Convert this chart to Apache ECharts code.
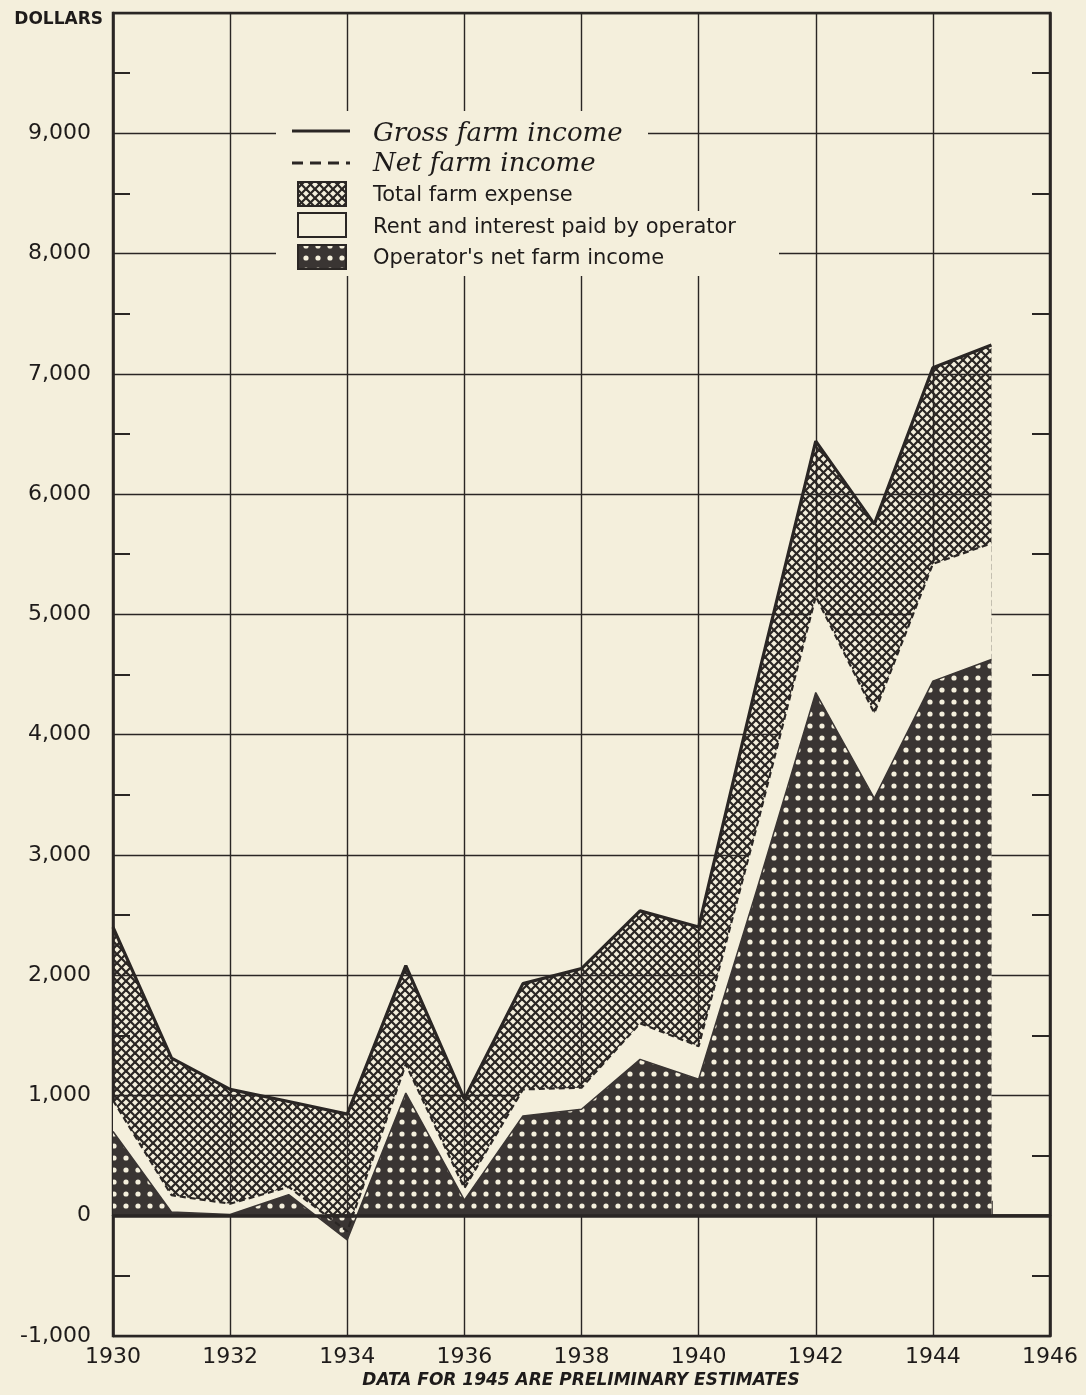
<!DOCTYPE html>
<html>
<head>
<meta charset="utf-8">
<script src="https://cdn.jsdelivr.net/npm/echarts@6/dist/echarts.min.js"></script>
<style>
html,body{margin:0;padding:0;background:#f4efdc;}
#chart{width:1086px;height:1395px;}
</style>
</head>
<body>
<div id="chart"></div>
<script>
// ---- data ----
const years = [1930,1931,1932,1933,1934,1935,1936,1937,1938,1939,1940,1941,1942,1943,1944,1945];
const grossFarmIncome = [2400,1310,1050,950,845,2080,970,1930,2055,2535,2400,4450,6440,5750,7050,7240];
const netFarmIncome = [960,170,100,240,-130,1260,230,1050,1065,1600,1410,3250,5150,4180,5420,5590];
const operatorNetIncome = [700,30,10,175,-200,1020,130,830,885,1300,1135,2720,4350,3470,4445,4625];
const xTickLabels = [1930,1932,1934,1936,1938,1940,1942,1944,1946];
const yTickLabels = [-1000,0,1000,2000,3000,4000,5000,6000,7000,8000,9000];
const legendNames = ['Gross farm income','Net farm income','Total farm expense','Rent and interest paid by operator',"Operator's net farm income"];

// ---- styles ----
const BG = '#f4efdc';
const INK = '#2a2624';
const DARK = '#3a3533';

function crossPattern(opaque){
  const s = 9, c = document.createElement('canvas');
  c.width = s; c.height = s;
  const g = c.getContext('2d');
  if (opaque) { g.fillStyle = BG; g.fillRect(0,0,s,s); }
  g.strokeStyle = INK; g.lineWidth = 2.2; g.lineCap = 'square';
  const seg = (a,b,cx,d)=>{g.beginPath();g.moveTo(a,b);g.lineTo(cx,d);g.stroke();};
  seg(-1,-1,s+1,s+1); seg(s+1,-1,-1,s+1);
  seg(s-3,-3,s+3,3); seg(-3,s-3,3,s+3);
  seg(-3,3,3,-3); seg(s-3,s+3,s+3,s-3);
  return {image:c, repeat:'repeat'};
}
function dotPattern(){
  const s = 12, c = document.createElement('canvas');
  c.width = s; c.height = s;
  const g = c.getContext('2d');
  g.fillStyle = DARK; g.fillRect(0,0,s,s);
  g.fillStyle = BG; g.beginPath(); g.arc(6,6,2.6,0,Math.PI*2); g.fill();
  return {image:c, repeat:'repeat'};
}
const crossSeries = crossPattern(false);
const crossLegend = crossPattern(true);
const dotsSeries = dotPattern();
const dotsLegend = dotPattern();

const grossData = years.map((y,i)=>[y, grossFarmIncome[i]]);
const netData = years.map((y,i)=>[y, netFarmIncome[i]]);
const opData = years.map((y,i)=>[y, operatorNetIncome[i]]);

const chart = echarts.init(document.getElementById('chart'), null, {renderer:'canvas'});
const font = '"DejaVu Sans", sans-serif';

const option = {
  backgroundColor: BG,
  animation: false,
  grid: {left:113, right:36, top:13, bottom:59, show:true, borderColor:INK, borderWidth:2.5, backgroundColor:'transparent', containLabel:false},
  xAxis: {
    type:'value', min:1930, max:1946, interval:2,
    axisLine:{show:true, lineStyle:{color:INK, width:2.5}},
    axisTick:{show:false, inside:true},
    minorTick:{show:true, splitNumber:2, length:15, lineStyle:{color:INK, width:1.5}},
    splitLine:{show:true, lineStyle:{color:INK, width:1.4}},
    minorSplitLine:{show:false},
    axisLabel:{color:'#1e1b1a', fontFamily:font, fontSize:22, margin:10,
      formatter:(v)=> xTickLabels.includes(v) ? String(v) : ''}
  },
  yAxis: [{
    type:'value', min:-1000, max:10000, interval:1000, position:'left',
    axisLine:{show:true, lineStyle:{color:INK, width:2.5}},
    axisTick:{show:false, inside:true},
    minorTick:{show:true, splitNumber:2, length:17, lineStyle:{color:INK, width:2}},
    splitLine:{show:true, lineStyle:{color:INK, width:1.4}},
    minorSplitLine:{show:false},
    axisLabel:{color:'#1e1b1a', fontFamily:font, fontSize:22, margin:22,
      formatter:(v)=> yTickLabels.includes(v) ? v.toLocaleString('en-US') : ''}
  },{
    type:'value', min:-1000, max:10000, interval:1000, position:'right',
    axisLine:{show:true, lineStyle:{color:INK, width:2.5}},
    axisTick:{show:false, inside:true},
    minorTick:{show:true, splitNumber:2, length:18, lineStyle:{color:INK, width:2}},
    splitLine:{show:false},
    axisLabel:{show:false}
  }],
  series: [
    {name:legendNames[2], type:'line', data:grossData, symbol:'none',
     lineStyle:{width:0, opacity:0}, areaStyle:{color:crossSeries, opacity:1, origin:0}, z:2},
    {name:legendNames[3], type:'line', data:netData, symbol:'none',
     lineStyle:{width:0, opacity:0}, areaStyle:{color:BG, opacity:1, origin:0}, z:2},
    {name:legendNames[4], type:'line', data:opData, symbol:'none',
     lineStyle:{color:DARK, width:1.5}, areaStyle:{color:dotsSeries, opacity:1, origin:0}, z:2},
    {name:legendNames[1], type:'line', data:netData, symbol:'none',
     lineStyle:{color:INK, width:2.2, type:[6,4]}, z:3},
    {name:legendNames[0], type:'line', data:grossData, symbol:'none',
     lineStyle:{color:INK, width:3.2}, z:4,
     markLine:{silent:true, symbol:'none', label:{show:false},
       lineStyle:{color:INK, width:3.5, type:'solid'}, data:[{yAxis:0}]}}
  ],
  graphic: [
    {type:'rect', z:100, shape:{x:276, y:111, width:372, height:101}, style:{fill:BG}},
    {type:'rect', z:100, shape:{x:276, y:211, width:503, height:65}, style:{fill:BG}},
    {type:'line', z:101, shape:{x1:292, y1:131, x2:350, y2:131}, style:{stroke:INK, lineWidth:3}},
    {type:'line', z:101, shape:{x1:292, y1:163, x2:350, y2:163}, style:{stroke:INK, lineWidth:3, lineDash:[11,7]}},
    {type:'rect', z:101, shape:{x:298, y:182, width:48, height:24}, style:{fill:crossLegend, stroke:INK, lineWidth:2}},
    {type:'rect', z:101, shape:{x:298, y:213, width:48, height:24}, style:{fill:BG, stroke:INK, lineWidth:2}},
    {type:'rect', z:101, shape:{x:298, y:245, width:48, height:24}, style:{fill:dotsLegend, stroke:INK, lineWidth:2}},
    {type:'text', z:101, x:373, y:134, style:{text:legendNames[0], font:'italic 26px "DejaVu Serif", serif', fill:'#1e1b1a', textVerticalAlign:'middle'}},
    {type:'text', z:101, x:373, y:164, style:{text:legendNames[1], font:'italic 26px "DejaVu Serif", serif', fill:'#1e1b1a', textVerticalAlign:'middle'}},
    {type:'text', z:101, x:373, y:196, style:{text:legendNames[2], font:'21px "DejaVu Sans", sans-serif', fill:'#1e1b1a', textVerticalAlign:'middle'}},
    {type:'text', z:101, x:373, y:228, style:{text:legendNames[3], font:'21px "DejaVu Sans", sans-serif', fill:'#1e1b1a', textVerticalAlign:'middle'}},
    {type:'text', z:101, x:373, y:259, style:{text:legendNames[4], font:'21px "DejaVu Sans", sans-serif', fill:'#1e1b1a', textVerticalAlign:'middle'}},
    {type:'text', z:101, x:103, y:20, style:{text:'DOLLARS', font:'bold 17px "DejaVu Sans", sans-serif', fill:'#1e1b1a', textAlign:'right', textVerticalAlign:'middle'}},
    {type:'text', z:101, x:581, y:1381, style:{text:'DATA FOR 1945 ARE PRELIMINARY ESTIMATES', font:'italic bold 17px "DejaVu Sans", sans-serif', fill:'#1e1b1a', textAlign:'center', textVerticalAlign:'middle'}}
  ]
};
chart.setOption(option);
</script>
</body>
</html>
